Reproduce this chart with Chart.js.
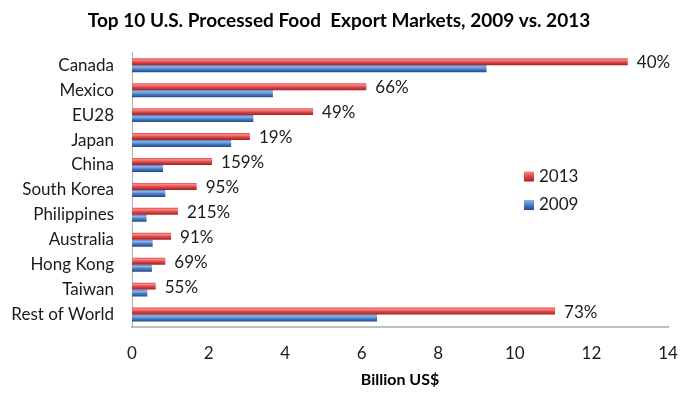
<!DOCTYPE html>
<html>
<head>
<meta charset="utf-8">
<script src="https://cdn.jsdelivr.net/npm/chart.js@4/dist/chart.umd.min.js"></script>
<style>
html,body{margin:0;padding:0;background:#fff;}
#wrap{width:700px;height:394px;}
</style>
</head>
<body>
<div id="wrap"><canvas id="c" width="700" height="394"></canvas></div>
<script>
const categories = ["Canada","Mexico","EU28","Japan","China","South Korea","Philippines","Australia","Hong Kong","Taiwan","Rest of World"];
const values2013 = [12.95, 6.12, 4.73, 3.08, 2.09, 1.69, 1.20, 1.02, 0.87, 0.62, 11.05];
const values2009 = [9.26, 3.68, 3.17, 2.59, 0.81, 0.87, 0.38, 0.54, 0.52, 0.40, 6.40];
const growthLabels = ["40%","66%","49%","19%","159%","95%","215%","91%","69%","55%","73%"];
const xTicks = [0, 2, 4, 6, 8, 10, 12, 14];

const FONT = "Lato, 'Open Sans', sans-serif";
const CAT_PCT = 0.56;
const RED = {light:'#f58a8a', mid:'#e24848', dark:'#9c2222'};
const BLUE = {light:'#8db4ec', mid:'#4a7fcc', dark:'#23497f'};

function barGrad(ctx, pal, upper){
  const chart = ctx.chart;
  const ys = chart.scales && chart.scales.y;
  if (!chart.chartArea || !ys || ctx.dataIndex === undefined) return pal.mid;
  const yc = ys.getPixelForValue(ctx.dataIndex);
  const h = ys.height / categories.length * CAT_PCT / 2;
  const top = upper ? yc - h : yc;
  const bot = upper ? yc : yc + h;
  const g = chart.ctx.createLinearGradient(0, top, 0, bot);
  g.addColorStop(0, pal.mid);
  g.addColorStop(0.25, pal.light);
  g.addColorStop(0.55, pal.mid);
  g.addColorStop(1, pal.dark);
  return g;
}

const extras = {
  id: 'extras',
  afterDatasetsDraw(chart){
    const c = chart.ctx;
    c.save();
    c.font = "17px " + FONT;
    c.fillStyle = '#1a1a1a';
    c.textAlign = 'left';
    c.textBaseline = 'middle';
    const meta = chart.getDatasetMeta(0);
    meta.data.forEach((el, i) => {
      c.fillText(growthLabels[i], el.x + 9, el.y + 1);
    });
    // legend
    const items = [{t:'2013', pal:RED, y:176.5},{t:'2009', pal:BLUE, y:205}];
    items.forEach(it => {
      const g = c.createLinearGradient(0, it.y - 5, 0, it.y + 5);
      g.addColorStop(0, it.pal.light);
      g.addColorStop(0.5, it.pal.mid);
      g.addColorStop(1, it.pal.dark);
      c.fillStyle = g;
      c.fillRect(524, it.y - 5, 10, 10);
      c.fillStyle = '#1a1a1a';
      c.font = "17px " + FONT;
      c.fillText(it.t, 539, it.y);
    });
    c.restore();
  }
};

new Chart(document.getElementById('c'), {
  type: 'bar',
  data: {
    labels: categories,
    datasets: [
      {label:'2013', data: values2013, backgroundColor: (ctx) => barGrad(ctx, RED, true), borderWidth: 0, categoryPercentage: CAT_PCT, barPercentage: 1},
      {label:'2009', data: values2009, backgroundColor: (ctx) => barGrad(ctx, BLUE, false), borderWidth: 0, categoryPercentage: CAT_PCT, barPercentage: 1}
    ]
  },
  options: {
    indexAxis: 'y',
    responsive: false,
    animation: false,
    layout: {padding: {left: 10, right: 32, top: 0, bottom: 0}},
    plugins: {
      legend: {display: false},
      tooltip: {enabled: false},
      title: {
        display: true,
        text: 'Top 10 U.S. Processed Food  Export Markets, 2009 vs. 2013',
        color: '#000',
        font: {family: FONT, size: 19, weight: 'bold'},
        padding: {top: 9, bottom: 21}
      }
    },
    scales: {
      x: {
        min: 0, max: 14,
        afterBuildTicks(s){ s.ticks = xTicks.map(v => ({value: v})); },
        grid: {display: false, drawTicks: false},
        border: {display: true, color: '#c0c0c0', width: 2},
        ticks: {color: '#1a1a1a', font: {family: FONT, size: 17}, padding: 16, maxRotation: 0},
        title: {display: true, text: 'Billion US$', color: '#000', font: {family: FONT, size: 16, weight: 'bold'}, padding: {top: 0, bottom: 5}},
        afterFit(s){ s.height = 67; }
      },
      y: {
        grid: {display: false, drawTicks: false},
        border: {display: true, color: '#b0b0b0', width: 1},
        ticks: {color: '#1a1a1a', font: {family: FONT, size: 17}, padding: 18, autoSkip: false},
        afterFit(s){ s.width = 122; }
      }
    }
  },
  plugins: [extras]
});
</script>
</body>
</html>
